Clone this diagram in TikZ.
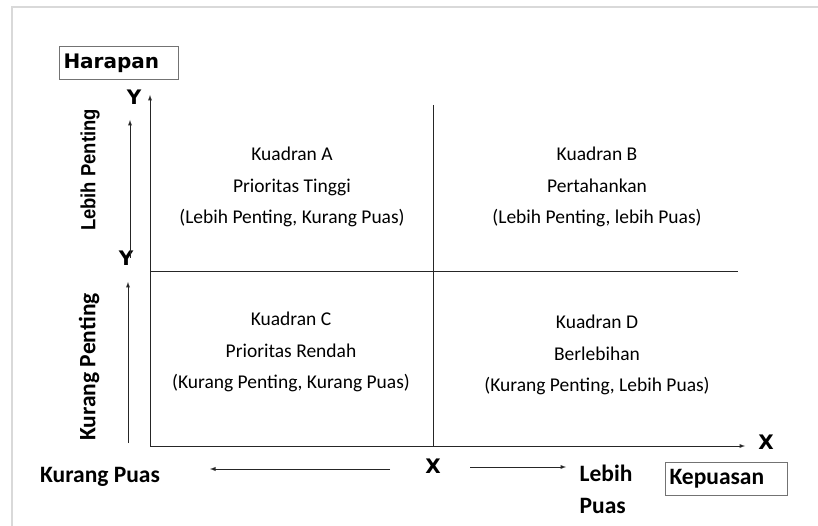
\documentclass[tikz,border=0pt]{standalone}
\usepackage{fontspec}
\setmainfont{Carlito}
\newfontfamily\verdfont{DejaVu Sans}
\newfontfamily\arifont{Liberation Sans}
\tikzset{
	lbl/.style={font=\bfseries\fontsize{23.5}{28}\selectfont, inner sep=0pt},
	axl/.style={font=\verdfont\bfseries\fontsize{20}{24}\selectfont, inner sep=0pt},
	quad/.style={font=\fontsize{19.5}{31.5}\selectfont, align=center, inner sep=0pt},
	ttl/.style={draw=black!55, line width=1pt, text width=111pt, align=left, minimum height=33pt, inner xsep=4pt},
	ln/.style={draw=black!85, line width=0.9pt},
}

\begin{document}
\begin{tikzpicture}[x=1pt,y=-1pt]

	\useasboundingbox (0,0) rectangle (818,526);
	\draw[black!15, line width=1.5pt] (12,526) -- (12,7) -- (818,7);

	% axes
	\coordinate (O) at (150,446);
	\coordinate (ytop) at (150,95);
	\coordinate (xend) at (745,446);
	\coordinate (mtop) at (433,105);
	\coordinate (mleft) at (150,271);
	\coordinate (mright) at (738,271);
	\draw[ln, -latex] (O) -- (ytop);
	\draw[ln, -latex] (O) -- (xend);
	\draw[ln] (mtop) -- (O -| mtop);
	\draw[ln] (mleft) -- (mright);

	\node[ttl, axl, inner xsep=4pt, anchor=west] (harapan) at (59,63.5) {Harapan};
	\node[ttl, lbl, inner xsep=4pt, anchor=west, text width=114pt] (kepuasan) at (665,478.5) {Kepuasan};

	\node[axl] (ya) at (134,97) {Y};
	\node[axl] (yb) at (126,258) {Y};
	\node[axl] (xa) at (766,442) {X};
	\node[axl] (xb) at (433,466) {X};

	\node[font=\arifont\bfseries\fontsize{20.5}{24}\selectfont, inner sep=0pt, rotate=90, xscale=0.9] (lebihpenting) at (90,170) {Lebih Penting};
	\node[lbl, rotate=90] (kurangpenting) at (89,367) {Kurang Penting};
	\node[lbl] (kurangpuas) at (100,477) {Kurang Puas};
	\node[lbl, align=left] (lebihpuas) at (606,489) {Lebih\\[4pt]Puas};

	\coordinate (pa) at (130,258);
	\coordinate (pb) at (130,120);
	\coordinate (pc) at (128,443);
	\coordinate (pd) at (128,282);
	\draw[ln, -latex] (pa) -- (pb);
	\draw[ln, -latex] (pc) -- (pd);
	\coordinate (qa) at (390,469);
	\coordinate (qb) at (210,469);
	\coordinate (qc) at (470,467);
	\coordinate (qd) at (566,467);
	\draw[ln, -latex] (qa) -- (qb);
	\draw[ln, -latex] (qc) -- (qd);

	\node[quad] (kA) at (292,187) {Kuadran A\\Prioritas Tinggi\\(Lebih Penting, Kurang Puas)};
	\node[quad] (kB) at (597,187) {Kuadran B\\Pertahankan\\(Lebih Penting, lebih Puas)};
	\node[quad] (kC) at (291,352) {Kuadran C\\Prioritas Rendah\\(Kurang Penting, Kurang Puas)};
	\node[quad] (kD) at (597,355) {Kuadran D\\Berlebihan\\(Kurang Penting, Lebih Puas)};

\end{tikzpicture}
\end{document}
